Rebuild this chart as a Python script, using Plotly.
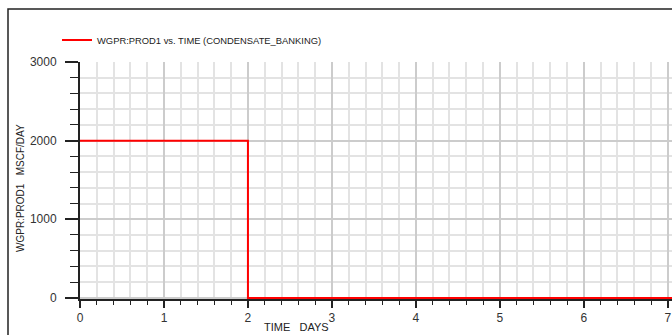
import plotly.graph_objects as go

# Data
time_days = [0, 2, 7.05]
wgpr = [2000, 0, 0]
series_name = "WGPR:PROD1 vs. TIME (CONDENSATE_BANKING)"
x_ticks = [0, 1, 2, 3, 4, 5, 6, 7]
y_ticks = [0, 1000, 2000, 3000]

W, H = 672, 335
L, R, T, B = 80, 0, 62, 36
pw, ph = W - L - R, H - T - B

def px_x(p):
    return (p - L) / pw

def px_y(p):
    return (H - B - p) / ph

fig = go.Figure()
fig.add_trace(go.Scatter(
    x=time_days, y=wgpr, mode="lines", line_shape="hv",
    line=dict(color="#ff0000", width=2), name=series_name, showlegend=True,
))

font = "Liberation Sans, Arial, sans-serif"

fig.update_layout(
    width=W, height=H,
    margin=dict(l=L, r=R, t=T, b=B),
    paper_bgcolor="white", plot_bgcolor="white",
    font=dict(family=font, color="#222222", size=12),
    showlegend=True,
    legend=dict(x=px_x(57), y=px_y(40), xanchor="left", yanchor="middle",
                bgcolor="rgba(0,0,0,0)", borderwidth=0,
                font=dict(size=9.4, family=font, color="#222222")),
    xaxis=dict(
        range=[0, 7.05], tickvals=x_ticks, ticktext=[str(v) for v in x_ticks],
        showline=True, linecolor="#222222", linewidth=2, layer="below traces",
        ticks="outside", ticklen=7, tickwidth=2, tickcolor="#222222",
        showgrid=True, gridcolor="#cccccc", gridwidth=2,
        zeroline=False,
        tickfont=dict(size=12, color="#333333"),
        minor=dict(dtick=0.2, ticks="outside", ticklen=4, tickwidth=1, tickcolor="#222222",
                   showgrid=True, gridcolor="#e3e3e3", gridwidth=2),
    ),
    yaxis=dict(
        range=[-14, 3000], tickvals=y_ticks, ticktext=[str(v) for v in y_ticks],
        showline=True, linecolor="#222222", linewidth=2, layer="below traces",
        ticks="outside", ticklen=13, tickwidth=2, tickcolor="#222222",
        showgrid=True, gridcolor="#cccccc", gridwidth=2,
        zeroline=False, ticklabelstandoff=6,
        tickfont=dict(size=12, color="#333333"),
        minor=dict(dtick=200, ticks="outside", ticklen=8, tickwidth=1, tickcolor="#222222",
                   showgrid=True, gridcolor="#e3e3e3", gridwidth=2),
    ),
    shapes=[dict(type="rect", xref="paper", yref="paper",
                 x0=px_x(8), x1=px_x(700), y0=px_y(360), y1=px_y(9),
                 line=dict(color="#222222", width=1.5), fillcolor="rgba(0,0,0,0)", layer="above")],
    annotations=[
        dict(text="TIME   DAYS", xref="paper", yref="paper", x=px_x(296), y=px_y(327),
             xanchor="center", yanchor="middle", showarrow=False,
             font=dict(size=11, family=font, color="#222222")),
        dict(text="WGPR:PROD1   MSCF/DAY", xref="paper", yref="paper", x=px_x(20), y=px_y(188),
             xanchor="center", yanchor="middle", showarrow=False, textangle=-90,
             font=dict(size=10, family=font, color="#222222")),
    ],
)

fig.write_html("out.html")
